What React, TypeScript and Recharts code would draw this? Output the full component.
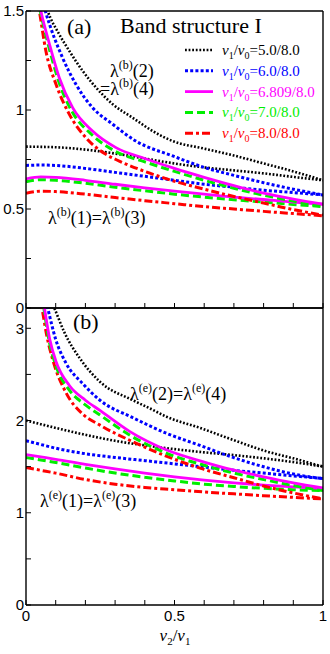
import { Line, LineChart, XAxis, YAxis } from "recharts"

const xTicks = [0, 0.1, 0.2, 0.3, 0.4, 0.5, 0.6, 0.7, 0.8, 0.9, 1]
const aTicks = [0, 0.25, 0.5, 0.75, 1, 1.25, 1.5]
const bTicks = [0, 0.5, 1, 1.5, 2, 2.5, 3]
const ratios = ["5.0/8.0", "6.0/8.0", "6.809/8.0", "7.0/8.0", "8.0/8.0"]

// lower branch, shared x grid
const lowX = [0, 0.05, 0.1, 0.2, 0.3, 0.4, 0.5, 0.6, 0.7, 0.8, 0.9, 1]

// panel (a): lambda(b)(1)=lambda(b)(3)
const aLow50 = [0.815, 0.814, 0.812, 0.8, 0.78, 0.755, 0.73, 0.71, 0.695, 0.68, 0.662, 0.645]
const aLow60 = [0.72, 0.722, 0.72, 0.705, 0.685, 0.665, 0.645, 0.625, 0.61, 0.595, 0.583, 0.571]
const aLow6809 = [0.652, 0.662, 0.66, 0.645, 0.625, 0.607, 0.59, 0.575, 0.56, 0.548, 0.535, 0.524]
const aLow70 = [0.638, 0.648, 0.645, 0.63, 0.61, 0.592, 0.575, 0.56, 0.547, 0.535, 0.523, 0.512]
const aLow80 = [0.58, 0.59, 0.588, 0.575, 0.558, 0.542, 0.527, 0.512, 0.5, 0.488, 0.477, 0.466]

// panel (a): lambda(b)(2)=lambda(b)(4)
const aUp50X = [0.06, 0.073, 0.112, 0.146, 0.191, 0.236, 0.292, 0.359, 0.426, 0.494, 0.6, 0.7, 0.8, 0.9, 1]
const aUp50 = [1.56, 1.5, 1.382, 1.298, 1.197, 1.113, 1.029, 0.961, 0.894, 0.843, 0.805, 0.77, 0.73, 0.69, 0.645]
const aUp60X = [0.05, 0.065, 0.123, 0.168, 0.224, 0.292, 0.37, 0.494, 0.6, 0.7, 0.8, 0.9, 1]
const aUp60 = [1.58, 1.5, 1.264, 1.13, 1.012, 0.928, 0.843, 0.768, 0.71, 0.67, 0.633, 0.6, 0.571]
const aUp6809X = [0.04, 0.05, 0.079, 0.112, 0.157, 0.224, 0.303, 0.4, 0.5, 0.6, 0.7, 0.8, 0.9, 1]
const aUp6809 = [1.57, 1.5, 1.332, 1.163, 1.012, 0.894, 0.81, 0.755, 0.705, 0.66, 0.618, 0.58, 0.55, 0.525]
const aUp70X = [0.038, 0.048, 0.077, 0.11, 0.155, 0.222, 0.3, 0.4, 0.5, 0.6, 0.7, 0.8, 0.9, 1]
const aUp70 = [1.57, 1.5, 1.318, 1.145, 0.992, 0.875, 0.792, 0.738, 0.69, 0.645, 0.605, 0.57, 0.54, 0.512]
const aUp80X = [0.037, 0.045, 0.067, 0.101, 0.146, 0.202, 0.269, 0.314, 0.4, 0.5, 0.6, 0.7, 0.8, 0.9, 1]
const aUp80 = [1.57, 1.5, 1.298, 1.13, 0.978, 0.86, 0.776, 0.742, 0.69, 0.64, 0.6, 0.563, 0.53, 0.497, 0.469]

// panel (b): lambda(e)(1)=lambda(e)(3)
const bLow50 = [2.0, 1.96, 1.92, 1.845, 1.78, 1.73, 1.69, 1.655, 1.625, 1.59, 1.55, 1.5]
const bLow60 = [1.78, 1.74, 1.7, 1.64, 1.6, 1.565, 1.53, 1.495, 1.46, 1.43, 1.4, 1.372]
const bLow6809 = [1.63, 1.605, 1.58, 1.525, 1.475, 1.43, 1.39, 1.355, 1.325, 1.3, 1.28, 1.265]
const bLow70 = [1.6, 1.572, 1.545, 1.485, 1.43, 1.385, 1.345, 1.31, 1.285, 1.265, 1.25, 1.24]
const bLow80 = [1.49, 1.46, 1.43, 1.36, 1.31, 1.275, 1.25, 1.225, 1.205, 1.185, 1.167, 1.15]

// panel (b): lambda(e)(2)=lambda(e)(4)
const bUp50X = [0.08, 0.095, 0.13, 0.18, 0.249, 0.36, 0.418, 0.474, 0.586, 0.697, 0.81, 0.9, 1]
const bUp50 = [3.32, 3.22, 2.95, 2.68, 2.42, 2.22, 2.13, 2.04, 1.92, 1.79, 1.665, 1.59, 1.5]
const bUp60X = [0.063, 0.073, 0.1, 0.135, 0.191, 0.249, 0.36, 0.474, 0.586, 0.697, 0.81, 0.9, 1]
const bUp60 = [3.35, 3.22, 2.88, 2.62, 2.4, 2.22, 2.03, 1.86, 1.73, 1.6, 1.49, 1.42, 1.37]
const bUp6809X = [0.055, 0.062, 0.08, 0.101, 0.146, 0.2, 0.249, 0.35, 0.474, 0.6, 0.697, 0.8, 0.9, 1]
const bUp6809 = [3.36, 3.22, 2.88, 2.64, 2.38, 2.22, 2.11, 1.88, 1.68, 1.55, 1.464, 1.39, 1.325, 1.27]
const bUp70X = [0.053, 0.06, 0.078, 0.1, 0.146, 0.2, 0.249, 0.35, 0.474, 0.6, 0.7, 0.8, 0.9, 1]
const bUp70 = [3.36, 3.22, 2.86, 2.6, 2.33, 2.17, 2.06, 1.84, 1.645, 1.515, 1.43, 1.36, 1.295, 1.24]
const bUp80X = [0.047, 0.054, 0.07, 0.09, 0.135, 0.191, 0.249, 0.36, 0.5, 0.6, 0.7, 0.8, 0.9, 1]
const bUp80 = [3.36, 3.22, 2.92, 2.66, 2.3, 2.07, 1.95, 1.77, 1.58, 1.47, 1.38, 1.29, 1.215, 1.15]

type Pt = { x: number; y: number }
const pts = (xs: number[], ys: number[]): Pt[] => xs.map((x, i) => ({ x, y: ys[i] }))

const styles = [
  { color: "#000000", width: 2.6, dash: "1.8 1.8" },
  { color: "#0000ff", width: 3, dash: "3 2.2" },
  { color: "#ff00ff", width: 2.8, dash: undefined },
  { color: "#00ee00", width: 3, dash: "8 4" },
  { color: "#ff0000", width: 3, dash: "8 3 3 3" },
]
// paint order: magenta on top
const drawOrder = [0, 1, 4, 3, 2]

const LEFT = 26
const RIGHT = 323
const TOP = 11
const BOTTOM = 308
const TICK = 5
const sans = "'Liberation Sans', Arial, sans-serif"
const serif = "'Liberation Serif', 'Times New Roman', serif"
const frame = { stroke: "#000", strokeWidth: 1.4 }

type PanelProps = {
  upper: Pt[][]
  lower: Pt[][]
  yMax: number
  yTicks: number[]
  majorStep: number
  bottomLabels: boolean
}

function Panel({ upper, lower, yMax, yTicks, majorStep, bottomLabels }: PanelProps) {
  const isMajor = (v: number) => Math.abs(v / majorStep - Math.round(v / majorStep)) < 1e-6
  const leftTick = (p: any) => (
    <g>
      <line x1={LEFT} x2={LEFT + TICK} y1={p.y} y2={p.y} stroke="#000" strokeWidth={1} />
      {isMajor(p.payload.value) && (
        <text x={LEFT - 2} y={p.y} dy="0.36em" textAnchor="end" fontSize={15} fontFamily={sans} fill="#000">
          {String(p.payload.value)}
        </text>
      )}
    </g>
  )
  const rightTick = (p: any) => (
    <line x1={RIGHT} x2={RIGHT - TICK} y1={p.y} y2={p.y} stroke="#000" strokeWidth={1} />
  )
  const topTick = (p: any) => (
    <line x1={p.x} x2={p.x} y1={TOP} y2={TOP + TICK} stroke="#000" strokeWidth={1} />
  )
  const bottomTick = (p: any) => {
    const v = p.payload.value
    const major = Math.abs(v * 2 - Math.round(v * 2)) < 1e-6
    return (
      <g>
        <line x1={p.x} x2={p.x} y1={BOTTOM} y2={BOTTOM - TICK} stroke="#000" strokeWidth={1} />
        {bottomLabels && major && (
          <text x={p.x} y={BOTTOM + 16} textAnchor="middle" fontSize={15} fontFamily={sans} fill="#000">
            {String(v)}
          </text>
        )}
      </g>
    )
  }

  return (
    <LineChart
      width={330}
      height={bottomLabels ? 357 : 320}
      margin={{ top: 0, right: 0, bottom: 0, left: 0 }}
    >
      <XAxis
        type="number"
        dataKey="x"
        domain={[0, 1]}
        ticks={xTicks}
        interval={0}
        height={bottomLabels ? 49 : 12}
        axisLine={frame}
        tickLine={false}
        tick={bottomTick}
        allowDataOverflow
      />
      <XAxis
        xAxisId="t"
        orientation="top"
        type="number"
        dataKey="x"
        domain={[0, 1]}
        ticks={xTicks}
        interval={0}
        height={TOP}
        axisLine={frame}
        tickLine={false}
        tick={topTick}
      />
      <YAxis
        type="number"
        domain={[0, yMax]}
        ticks={yTicks}
        interval={0}
        width={LEFT}
        axisLine={frame}
        tickLine={false}
        tick={leftTick}
        allowDataOverflow
      />
      <YAxis
        yAxisId="r"
        orientation="right"
        type="number"
        domain={[0, yMax]}
        ticks={yTicks}
        interval={0}
        width={330 - RIGHT}
        axisLine={frame}
        tickLine={false}
        tick={rightTick}
      />
      {drawOrder.map((i) => (
        <Line
          key={"lo" + i}
          data={lower[i]}
          dataKey="y"
          type="monotone"
          stroke={styles[i].color}
          strokeWidth={styles[i].width}
          strokeDasharray={styles[i].dash}
          dot={false}
          activeDot={false}
          isAnimationActive={false}
        />
      ))}
      {drawOrder.map((i) => (
        <Line
          key={"up" + i}
          data={upper[i]}
          dataKey="y"
          type="monotone"
          stroke={styles[i].color}
          strokeWidth={styles[i].width}
          strokeDasharray={styles[i].dash}
          dot={false}
          activeDot={false}
          isAnimationActive={false}
        />
      ))}
    </LineChart>
  )
}

function Lam({ x, y, sup, tail, pre }: { x: number; y: number; sup: string; tail: string; pre?: string }) {
  return (
    <text x={x} y={y} fontSize={18} fontFamily={serif} fill="#000">
      {pre}λ
      <tspan fontSize={12} dy={-8}>({sup})</tspan>
      <tspan dy={8}>{tail}</tspan>
    </text>
  )
}

function LamPair({ x, y, sup, a, b }: { x: number; y: number; sup: string; a: string; b: string }) {
  return (
    <text x={x} y={y} fontSize={18} fontFamily={serif} fill="#000">
      λ
      <tspan fontSize={12} dy={-8}>({sup})</tspan>
      <tspan dy={8}>({a})=λ</tspan>
      <tspan fontSize={12} dy={-8}>({sup})</tspan>
      <tspan dy={8}>({b})</tspan>
    </text>
  )
}

function Overlay() {
  const rowY = (i: number) => 50 + i * 20.8
  return (
    <svg
      width={330}
      height={654}
      style={{ position: "absolute", left: 0, top: 0, pointerEvents: "none" }}
    >
      <text x={67} y={34} fontSize={22} fontFamily={serif} fill="#000">(a)</text>
      <text x={120} y={33} fontSize={22} fontFamily={serif} fill="#000">Band structure I</text>
      {ratios.map((r, i) => (
        <g key={r}>
          <line
            x1={185}
            x2={213}
            y1={rowY(i)}
            y2={rowY(i)}
            stroke={styles[i].color}
            strokeWidth={styles[i].width}
            strokeDasharray={styles[i].dash}
          />
          <text x={222} y={rowY(i) + 5} fontSize={15} fontFamily={serif} fill={styles[i].color}>
            <tspan fontStyle="italic">v</tspan>
            <tspan fontSize={10} dy={4}>1</tspan>
            <tspan dy={-4}>/</tspan>
            <tspan fontStyle="italic">v</tspan>
            <tspan fontSize={10} dy={4}>0</tspan>
            <tspan dy={-4}>={r}</tspan>
          </text>
        </g>
      ))}
      <Lam x={110} y={77} sup="b" tail="(2)" />
      <Lam x={100} y={95} sup="b" tail="(4)" pre="=" />
      <LamPair x={48} y={224} sup="b" a="1" b="3" />
      <text x={73} y={329} fontSize={22} fontFamily={serif} fill="#000">(b)</text>
      <LamPair x={130} y={400} sup="e" a="2" b="4" />
      <LamPair x={40} y={507} sup="e" a="1" b="3" />
      <text x={175} y={641} textAnchor="middle" fontSize={17} fontFamily={serif} fill="#000">
        <tspan fontStyle="italic">v</tspan>
        <tspan fontSize={11} dy={4}>2</tspan>
        <tspan dy={-4}>/</tspan>
        <tspan fontStyle="italic">v</tspan>
        <tspan fontSize={11} dy={4}>1</tspan>
      </text>
    </svg>
  )
}

export default function App() {
  const aLower = [aLow50, aLow60, aLow6809, aLow70, aLow80].map((ys) => pts(lowX, ys))
  const aUpper = [
    pts(aUp50X, aUp50),
    pts(aUp60X, aUp60),
    pts(aUp6809X, aUp6809),
    pts(aUp70X, aUp70),
    pts(aUp80X, aUp80),
  ]
  const bLower = [bLow50, bLow60, bLow6809, bLow70, bLow80].map((ys) => pts(lowX, ys))
  const bUpper = [
    pts(bUp50X, bUp50),
    pts(bUp60X, bUp60),
    pts(bUp6809X, bUp6809),
    pts(bUp70X, bUp70),
    pts(bUp80X, bUp80),
  ]

  return (
    <div style={{ position: "absolute", left: 0, top: 0, width: 330, height: 654, background: "#fff" }}>
      <div style={{ position: "absolute", left: 0, top: 0 }}>
        <Panel upper={aUpper} lower={aLower} yMax={1.5} yTicks={aTicks} majorStep={0.5} bottomLabels={false} />
      </div>
      <div style={{ position: "absolute", left: 0, top: 297 }}>
        <Panel upper={bUpper} lower={bLower} yMax={3.22} yTicks={bTicks} majorStep={1} bottomLabels />
      </div>
      <Overlay />
    </div>
  )
}
